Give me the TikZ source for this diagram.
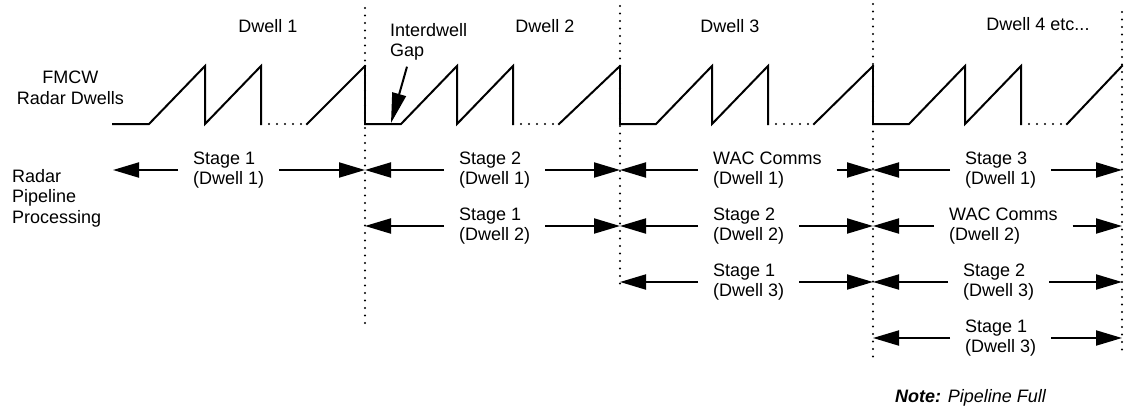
\documentclass[tikz,border=0pt]{standalone}
\usepackage{fontspec}
\setmainfont{Liberation Sans}
\usetikzlibrary{arrows.meta,positioning,calc}

\begin{document}
\begin{tikzpicture}[x=1pt,y=-1pt,txt/.style={font=\fontsize{18}{20.5}\selectfont,inner sep=0pt},lbl/.style={txt,align=left,anchor=west,inner xsep=15pt},wave/.style={line width=2pt,line cap=rect},dotline/.style={line width=2.2pt,line cap=round,dash pattern=on 0pt off 8pt},bnd/.style={line width=2.2pt,line cap=round,dash pattern=on 0pt off 7.5pt},arr/.style={line width=2pt,-{Triangle[length=26pt,width=15pt]}},>=Latex]
 \useasboundingbox (0,0) rectangle (1128,413);
 \coordinate (b0) at (113,124); \coordinate (b1) at (365,124); \coordinate (b2) at (620,124);
 \coordinate (b3) at (873,124); \coordinate (b4) at (1122,124);
 % dwell boundaries
 \draw[bnd] (365,8) -- (365,330); \draw[bnd] (620,6) -- (620,290);
 \draw[bnd] (873,4) -- (873,358); \draw[bnd] (1122,12) -- (1122,353);
 % FMCW sweeps
 \foreach \s/\e in {113/365,365/620,620/873,873/1122}{
  \draw[wave] (\s,124) -- ++(36,0) -- ++(56,-58) -- ++(0,58) -- ++(56,-58) -- ++(0,58);
  \draw[dotline] (\s+148,124) -- (\s+194,124);
  \draw[wave] (\s+194,124) -- (\e,66);
 }
 \foreach \x in {365,620,873} \draw[wave] (\x,66) -- (\x,124);
 \node[txt] (d1) at (268,26) {Dwell 1};
 \node[txt] (d2) at (545,26) {Dwell 2};
 \node[txt] (d3) at (730,26) {Dwell 3};
 \node[txt] (d4) at (1038,24) {Dwell 4 etc...};
 \node[txt,align=left,anchor=north west] (gap) at (390,23) {Interdwell\\Gap};
 \coordinate (gaptip) at (391,123);
 \draw[line width=2pt,-{Triangle[length=30pt,width=14pt]}] ($(gap.south west)+(17,6)$) -- (gaptip);
 \node[txt,align=center,anchor=east] (fmcw) at (124,88) {FMCW\\Radar Dwells};
 \node[txt,align=left,anchor=west] (rpp) at (12,198) {Radar\\Pipeline\\Processing};
 % pipeline stages
 \node[lbl] (c1r1) at (178,170) {Stage 1\\(Dwell 1)};
 \draw[arr] (c1r1.west) -- (b0 |- c1r1); \draw[arr] (c1r1.east) -- (b1 |- c1r1);
 \node[lbl] (c2r1) at (444,170) {Stage 2\\(Dwell 1)};
 \draw[arr] (c2r1.west) -- (b1 |- c2r1); \draw[arr] (c2r1.east) -- (b2 |- c2r1);
 \node[lbl] (c2r2) at (444,226) {Stage 1\\(Dwell 2)};
 \draw[arr] (c2r2.west) -- (b1 |- c2r2); \draw[arr] (c2r2.east) -- (b2 |- c2r2);
 \node[lbl] (c3r1) at (698,170) {WAC Comms\\(Dwell 1)};
 \draw[arr] (c3r1.west) -- (b2 |- c3r1); \draw[arr] (c3r1.east) -- (b3 |- c3r1);
 \node[lbl] (c3r2) at (698,226) {Stage 2\\(Dwell 2)};
 \draw[arr] (c3r2.west) -- (b2 |- c3r2); \draw[arr] (c3r2.east) -- (b3 |- c3r2);
 \node[lbl] (c3r3) at (698,282) {Stage 1\\(Dwell 3)};
 \draw[arr] (c3r3.west) -- (b2 |- c3r3); \draw[arr] (c3r3.east) -- (b3 |- c3r3);
 \node[lbl] (c4r1) at (950,170) {Stage 3\\(Dwell 1)};
 \draw[arr] (c4r1.west) -- (b3 |- c4r1); \draw[arr] (c4r1.east) -- (b4 |- c4r1);
 \node[lbl] (c4r2) at (934,226) {WAC Comms\\(Dwell 2)};
 \draw[arr] (c4r2.west) -- (b3 |- c4r2); \draw[arr] (c4r2.east) -- (b4 |- c4r2);
 \node[lbl] (c4r3) at (948,282) {Stage 2\\(Dwell 3)};
 \draw[arr] (c4r3.west) -- (b3 |- c4r3); \draw[arr] (c4r3.east) -- (b4 |- c4r3);
 \node[lbl] (c4r4) at (950,338) {Stage 1\\(Dwell 3)};
 \draw[arr] (c4r4.west) -- (b3 |- c4r4); \draw[arr] (c4r4.east) -- (b4 |- c4r4);
 \node[txt,anchor=west] (note) at (895,398) {\textbf{\textit{Note:}} \textit{Pipeline Full}};
\end{tikzpicture}
\end{document}
